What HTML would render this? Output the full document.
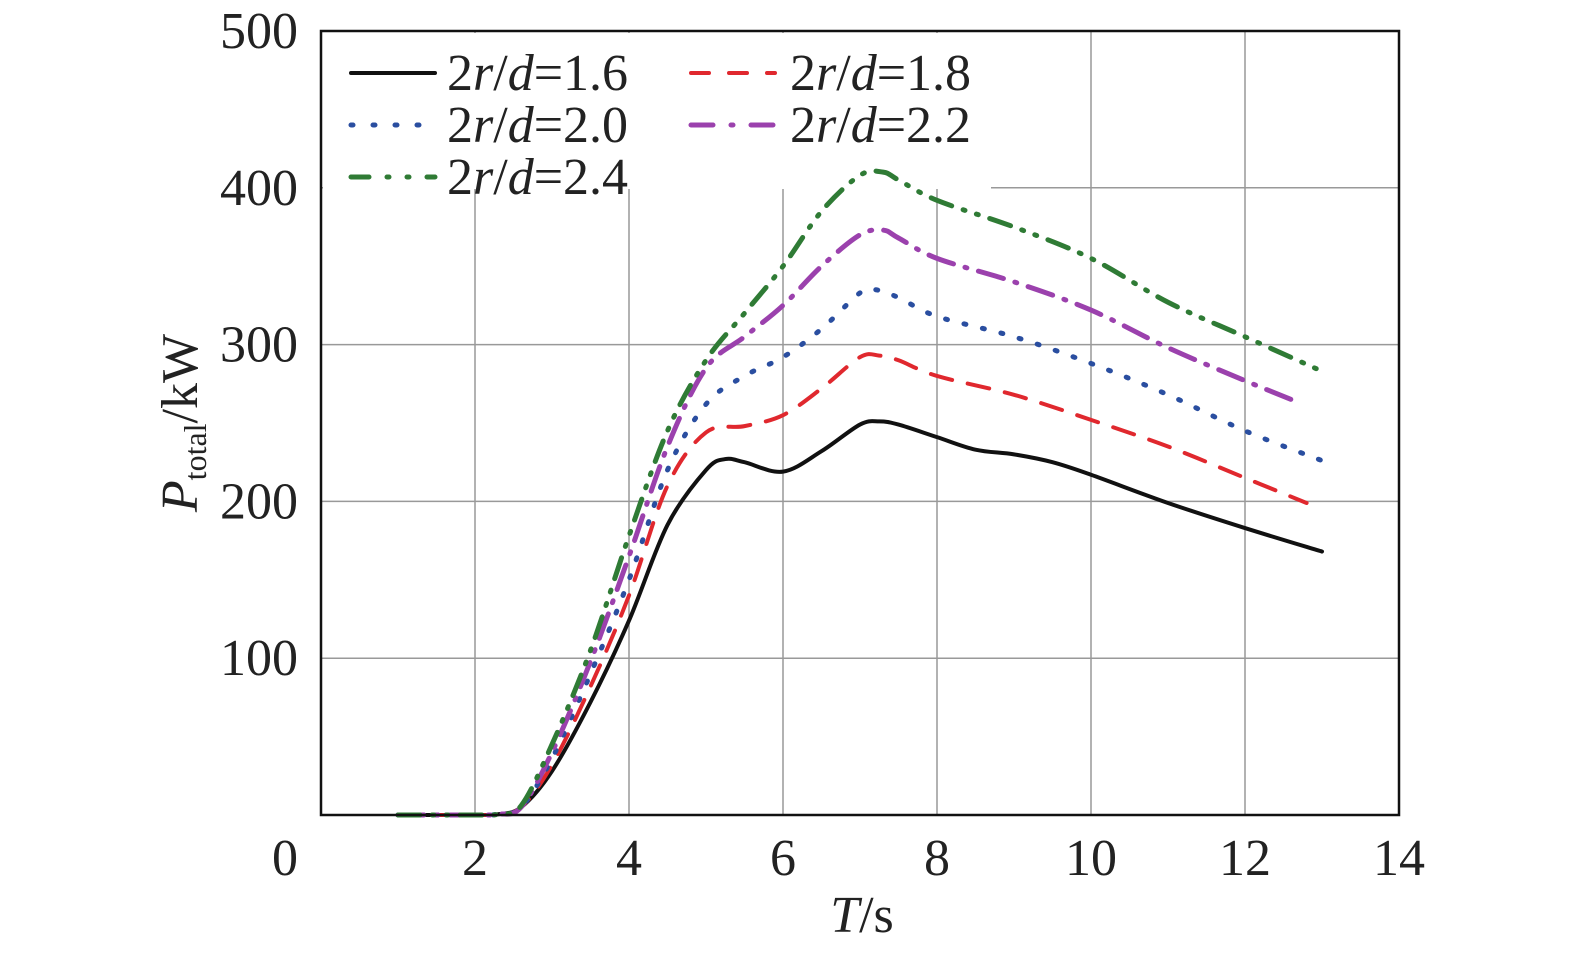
<!DOCTYPE html>
<html><head><meta charset="utf-8"><style>
html,body{margin:0;padding:0;background:#fff;overflow:hidden;}
svg{display:block;}
svg text{font-family:"Liberation Serif","Times New Roman",serif;fill:#222;}
</style></head><body>
<svg id="chart" width="1575" height="955" viewBox="0 0 1575 955" xmlns="http://www.w3.org/2000/svg">
<g id="grid"></g>
<rect x="323" y="33" width="668" height="156" fill="#fff"/>
<g id="series"></g>
<rect x="321" y="31" width="1078" height="784" fill="none" stroke="#111" stroke-width="2.5"/>
<g id="ticks"></g>
<g id="legend"></g>
<text x="862" y="932" font-size="52" font-family="Liberation Serif, serif" text-anchor="middle"><tspan font-style="italic">T</tspan>/s</text>
<text transform="translate(197,423) rotate(-90)" font-size="52" font-family="Liberation Serif, serif" text-anchor="middle"><tspan font-style="italic">P</tspan><tspan font-size="32" dy="9">total</tspan><tspan dy="-9">/kW</tspan></text>
</svg>
<script>
const xTicks=[2,4,6,8,10,12,14];
const yTicks=[100,200,300,400,500];
const seriesNames=["2r/d=1.6","2r/d=1.8","2r/d=2.0","2r/d=2.2","2r/d=2.4"];
const tBlack=[1,1.5,2,2.3,2.6,3,3.5,4,4.5,5,5.25,5.5,6,6.5,7,7.25,7.5,8,8.5,9,9.5,10,11,12,13];
const vBlack=[0,0,0,0.5,5,28,72,124,185,220,227,225,219,232,249,251,249,241,233,230,225,217,199,183,168];
const tRed=[1,1.5,2,2.3,2.6,3,3.5,4,4.5,5,5.5,6,6.5,7,7.25,7.5,8,9,10,11,12,12.8];
const vRed=[0,0,0,0.5,5,32,82,140,210,244,248,255,272,292,293,290,280,268,252,235,215,199];
const tBlue=[1,1.5,2,2.3,2.6,3,3.5,4,4.5,5,5.5,6,6.5,7,7.2,7.5,8,9,10,11,12,13];
const vBlue=[0,0,0,0.5,5,36,90,150,220,262,280,292,310,333,335,330,318,305,288,268,245,226];
const tPurple=[1,1.5,2,2.3,2.6,3,3.5,4,4.5,5,5.5,6,6.5,7,7.3,7.5,8,9,10,11,12,12.7];
const vPurple=[0,0,0,0.5,5,40,98,165,235,285,305,325,350,370,373,368,355,340,322,298,277,263];
const tGreen=[1,1.5,2,2.3,2.6,3,3.5,4,4.5,5,5.5,6,6.5,7,7.3,7.5,8,9,10,11,12,13];
const vGreen=[0,0,0,0.5,6,45,105,178,245,290,320,350,385,408,410,405,392,375,355,327,305,283];

const NS="http://www.w3.org/2000/svg";
const X=t=>321+t*(1078/14);
const Y=v=>815-v*(784/500);
function mk(tag,attrs,parent){const e=document.createElementNS(NS,tag);for(const k in attrs)e.setAttribute(k,attrs[k]);parent.appendChild(e);return e;}
const grid=document.getElementById('grid'),ticks=document.getElementById('ticks');
const FF='Liberation Serif, serif';
xTicks.forEach(t=>{
  if(t<14){const l=mk('line',{x1:X(t),x2:X(t),y1:31,y2:815,stroke:'#999','stroke-width':1.5},grid);
  
  }
  const tx=mk('text',{x:X(t),y:875,'font-size':52,'font-family':FF,'text-anchor':'middle'},ticks);tx.textContent=t;
  
  
});
const z=mk('text',{x:285,y:875,'font-size':52,'font-family':FF,'text-anchor':'middle'},ticks);z.textContent='0';


yTicks.forEach(v=>{
  if(v<500){const l=mk('line',{x1:321,x2:1399,y1:Y(v),y2:Y(v),stroke:'#999','stroke-width':1.5},grid);
  
  }
  const tx=mk('text',{x:298,y:Y(v)+17,'font-size':52,'font-family':FF,'text-anchor':'end'},ticks);tx.textContent=v;
  
  
});
function pathD(ts,vs){
  const p=ts.map((t,i)=>[X(t),Y(vs[i])]);let d=`M${p[0][0]},${p[0][1]}`;
  for(let i=0;i<p.length-1;i++){const p0=p[i-1]||p[i],p1=p[i],p2=p[i+1],p3=p[i+2]||p2;
    d+=` C${p1[0]+(p2[0]-p0[0])/6},${p1[1]+(p2[1]-p0[1])/6} ${p2[0]-(p3[0]-p1[0])/6},${p2[1]-(p3[1]-p1[1])/6} ${p2[0]},${p2[1]}`;}
  return d;}
const styles=[
 {c:'#111',dash:'',w:4,t:tBlack,v:vBlack},
 {c:'#e0282e',dash:'22 16',w:4,t:tRed,v:vRed},
 {c:'#2a4ea0',dash:'2 17',w:5,t:tBlue,v:vBlue},
 {c:'#9b41ad',dash:'26 12 2 12',w:5,t:tPurple,v:vPurple},
 {c:'#2f7b35',dash:'22 12 2 12 2 12',w:5,t:tGreen,v:vGreen}];
const sg=document.getElementById('series');
styles.forEach((s,i)=>{
  const p=mk('path',{d:pathD(s.t,s.v),fill:'none',stroke:s.c,'stroke-width':s.w,'stroke-dasharray':s.dash,'stroke-linecap':'round'},sg);
  
  
});
const lg=document.getElementById('legend');
const pos=[[343,73,447],[683,73,790],[343,125,447],[683,125,790],[343,177,447]];
const legDash=['','18 20','2 20','22 18 2 18','18 18 2 18 2 18'];
styles.forEach((s,i)=>{
  const [x,y,tx0]=pos[i];
  const l=mk('line',{x1:x+8,x2:x+92,y1:y,y2:y,stroke:s.c,'stroke-width':s.w,'stroke-dasharray':legDash[i],'stroke-linecap':'round'},lg);
  
  
  const tx=mk('text',{x:tx0,y:y+17,'font-size':52,'font-family':FF},lg);
  tx.innerHTML='2<tspan font-style="italic">r</tspan>/<tspan font-style="italic">d</tspan>='+seriesNames[i].split('=')[1];
  
  
});
</script>
</body></html>
